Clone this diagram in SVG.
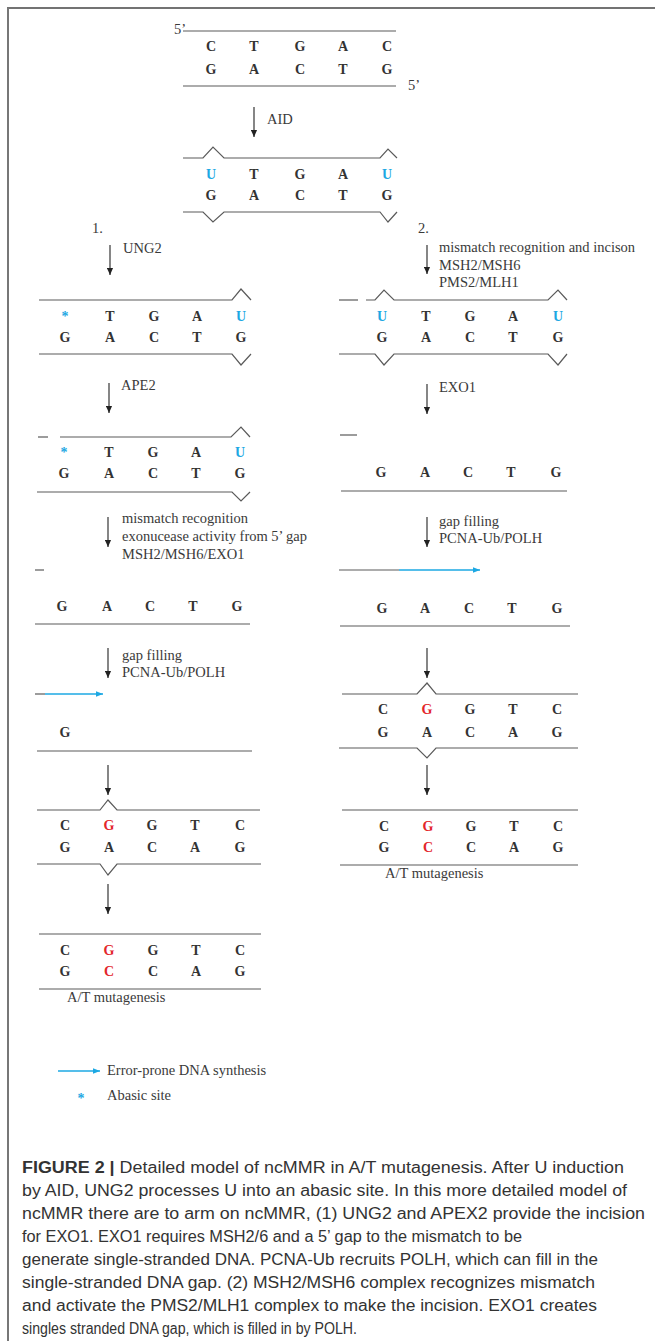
<svg xmlns="http://www.w3.org/2000/svg" width="655" height="1341" viewBox="0 0 655 1341">
<style>
.s{stroke:#5a5a5a;stroke-width:1.2;fill:none}
.bl{stroke:#1ca8e3;stroke-width:1.3;fill:none}
.b{font-family:"Liberation Serif",serif;font-weight:bold;font-size:14px;fill:#333;text-anchor:middle}
.l{font-family:"Liberation Serif",serif;font-size:14.5px;fill:#3a3a3a}
.u{fill:#1ca8e3}
.r{fill:#e3262b}
.a{stroke:#222;stroke-width:1.1;fill:none;marker-end:url(#ah)}
.cap{font-family:"Liberation Sans",Arial,sans-serif;font-size:16px;fill:#333}
</style>
<defs>
<marker id="ah" viewBox="0 0 8 8" refX="8" refY="4" markerWidth="7" markerHeight="7" markerUnits="userSpaceOnUse" orient="auto"><path d="M0,0.5 L8,4 L0,7.5 z" fill="#222"/></marker>
<marker id="bh" viewBox="0 0 8 8" refX="8" refY="4" markerWidth="7" markerHeight="7" markerUnits="userSpaceOnUse" orient="auto"><path d="M0,0.8 L8,4 L0,7.2 z" fill="#1ca8e3"/></marker>
</defs>
<rect width="655" height="1341" fill="#fff"/>
<g id="frame">
<line x1="7" y1="8" x2="655" y2="8" stroke="#444" stroke-width="1.6"/>
<line x1="8" y1="8" x2="8" y2="1341" stroke="#777" stroke-width="2"/>
</g>

<g id="dna-initial">
<text class="l" x="174" y="34">5’</text>
<line class="s" x1="183" y1="31" x2="396" y2="31"/>
<text class="b" y="51"><tspan x="211">C</tspan><tspan x="254">T</tspan><tspan x="300">G</tspan><tspan x="343">A</tspan><tspan x="387">C</tspan></text>
<text class="b" y="74"><tspan x="211">G</tspan><tspan x="254">A</tspan><tspan x="300">C</tspan><tspan x="343">T</tspan><tspan x="387">G</tspan></text>
<line class="s" x1="183" y1="86" x2="396" y2="86"/>
<text class="l" x="408" y="90">5’</text>
</g>

<g id="dna-aid">
<polyline class="s" points="183,158 203,158 213,147 224,158 380,158 388,149 397,158"/>
<text class="b" y="179"><tspan x="211" class="u">U</tspan><tspan x="254">T</tspan><tspan x="300">G</tspan><tspan x="343">A</tspan><tspan x="387" class="u">U</tspan></text>
<text class="b" y="200"><tspan x="211">G</tspan><tspan x="254">A</tspan><tspan x="300">C</tspan><tspan x="343">T</tspan><tspan x="387">G</tspan></text>
<polyline class="s" points="183,212 203,212 213,222 224,212 380,212 388,222 397,212"/>
</g>

<g id="dna-ung2">
<text class="l" x="92" y="233">1.</text>
<polyline class="s" points="39,300 232,300 241,289 251,300"/>
<text class="b" y="321"><tspan x="65" class="u">*</tspan><tspan x="110">T</tspan><tspan x="154">G</tspan><tspan x="197">A</tspan><tspan x="241" class="u">U</tspan></text>
<text class="b" y="342"><tspan x="65">G</tspan><tspan x="110">A</tspan><tspan x="154">C</tspan><tspan x="197">T</tspan><tspan x="241">G</tspan></text>
<polyline class="s" points="39,354 232,354 241,365 251,354"/>
</g>

<g id="dna-ape2">
<line class="s" x1="38" y1="437" x2="48" y2="437"/>
<polyline class="s" points="60,437 231,437 241,427 250,437"/>
<text class="b" y="457"><tspan x="64" class="u">*</tspan><tspan x="109">T</tspan><tspan x="153">G</tspan><tspan x="196">A</tspan><tspan x="240" class="u">U</tspan></text>
<text class="b" y="478"><tspan x="64">G</tspan><tspan x="109">A</tspan><tspan x="153">C</tspan><tspan x="196">T</tspan><tspan x="240">G</tspan></text>
<polyline class="s" points="37,492 232,492 241,501 250,492"/>
</g>

<g id="dna-excised-left">
<line class="s" x1="35" y1="570" x2="44" y2="570"/>
<text class="b" y="611"><tspan x="62">G</tspan><tspan x="107">A</tspan><tspan x="150">C</tspan><tspan x="193">T</tspan><tspan x="237">G</tspan></text>
<line class="s" x1="35" y1="624" x2="250" y2="624"/>
</g>

<g id="dna-gapfill-left">
<line class="s" x1="35" y1="694" x2="45" y2="694"/>
<line class="bl" x1="45" y1="694" x2="103" y2="694" marker-end="url(#bh)"/>
<text class="b" x="65" y="737">G</text>
<line class="s" x1="37" y1="751" x2="252" y2="751"/>
</g>

<g id="dna-mismatch-left">
<polyline class="s" points="37,810 100,810 108,800 117,810 260,810"/>
<text class="b" y="830"><tspan x="65">C</tspan><tspan x="109" class="r">G</tspan><tspan x="152">G</tspan><tspan x="195">T</tspan><tspan x="240">C</tspan></text>
<text class="b" y="852"><tspan x="65">G</tspan><tspan x="109">A</tspan><tspan x="152">C</tspan><tspan x="195">A</tspan><tspan x="240">G</tspan></text>
<polyline class="s" points="37,864 100,864 108,875 117,864 261,864"/>
</g>

<g id="dna-final-left">
<line class="s" x1="39" y1="934" x2="261" y2="934"/>
<text class="b" y="955"><tspan x="65">C</tspan><tspan x="109" class="r">G</tspan><tspan x="153">G</tspan><tspan x="196">T</tspan><tspan x="240">C</tspan></text>
<text class="b" y="976"><tspan x="65">G</tspan><tspan x="109" class="r">C</tspan><tspan x="153">C</tspan><tspan x="196">A</tspan><tspan x="240">G</tspan></text>
<line class="s" x1="39" y1="989" x2="261" y2="989"/>
<text class="l" x="67" y="1002">A/T mutagenesis</text>
</g>

<g id="dna-incision">
<text class="l" x="418" y="233">2.</text>
<line class="s" x1="339" y1="300" x2="358" y2="300"/>
<polyline class="s" points="366,300 375,300 384,290 394,300 548,300 558,290 567,300"/>
<text class="b" y="321"><tspan x="382" class="u">U</tspan><tspan x="426">T</tspan><tspan x="470">G</tspan><tspan x="513">A</tspan><tspan x="558" class="u">U</tspan></text>
<text class="b" y="342"><tspan x="382">G</tspan><tspan x="426">A</tspan><tspan x="470">C</tspan><tspan x="513">T</tspan><tspan x="558">G</tspan></text>
<polyline class="s" points="339,354 375,354 384,365 394,354 548,354 558,365 567,354"/>
</g>

<g id="dna-exo1">
<line class="s" x1="340" y1="435" x2="357" y2="435"/>
<text class="b" y="477"><tspan x="381">G</tspan><tspan x="425">A</tspan><tspan x="468">C</tspan><tspan x="511">T</tspan><tspan x="556">G</tspan></text>
<line class="s" x1="341" y1="491" x2="567" y2="491"/>
</g>

<g id="dna-gapfill-right">
<line class="s" x1="339" y1="570" x2="399" y2="570"/>
<line class="bl" x1="399" y1="570" x2="480" y2="570" marker-end="url(#bh)"/>
<text class="b" y="613"><tspan x="382">G</tspan><tspan x="425">A</tspan><tspan x="469">C</tspan><tspan x="512">T</tspan><tspan x="557">G</tspan></text>
<line class="s" x1="340" y1="626" x2="570" y2="626"/>
</g>

<g id="dna-mismatch-right">
<polyline class="s" points="342,694 417,694 427,683 436,694 578,694"/>
<text class="b" y="714"><tspan x="383">C</tspan><tspan x="427" class="r">G</tspan><tspan x="470">G</tspan><tspan x="513">T</tspan><tspan x="557">C</tspan></text>
<text class="b" y="737"><tspan x="383">G</tspan><tspan x="427">A</tspan><tspan x="470">C</tspan><tspan x="513">A</tspan><tspan x="557">G</tspan></text>
<polyline class="s" points="339,748 417,748 427,758 436,748 578,748"/>
</g>

<g id="dna-final-right">
<line class="s" x1="342" y1="810" x2="578" y2="810"/>
<text class="b" y="831"><tspan x="384">C</tspan><tspan x="428" class="r">G</tspan><tspan x="471">G</tspan><tspan x="514">T</tspan><tspan x="558">C</tspan></text>
<text class="b" y="852"><tspan x="384">G</tspan><tspan x="428" class="r">C</tspan><tspan x="471">C</tspan><tspan x="514">A</tspan><tspan x="558">G</tspan></text>
<line class="s" x1="340" y1="865" x2="578" y2="865"/>
<text class="l" x="385" y="878">A/T mutagenesis</text>
</g>

<g id="connectors">
<line class="a" x1="254" y1="107" x2="254" y2="137"/>
<text class="l" x="267" y="124">AID</text>
<line class="a" x1="110" y1="245" x2="110" y2="275"/>
<text class="l" x="123" y="253">UNG2</text>
<line class="a" x1="109" y1="383" x2="109" y2="413"/>
<text class="l" x="121" y="390">APE2</text>
<line class="a" x1="108" y1="517" x2="108" y2="547"/>
<text class="l" x="122" y="523">mismatch recognition</text>
<text class="l" x="122" y="541">exonucease activity from 5’ gap</text>
<text class="l" x="122" y="559">MSH2/MSH6/EXO1</text>
<line class="a" x1="108" y1="648" x2="108" y2="678"/>
<text class="l" x="122" y="660">gap filling</text>
<text class="l" x="122" y="677">PCNA-Ub/POLH</text>
<line class="a" x1="108" y1="765" x2="108" y2="795"/>
<line class="a" x1="108" y1="884" x2="108" y2="914"/>
<line class="a" x1="427" y1="245" x2="427" y2="274"/>
<text class="l" x="439" y="252">mismatch recognition and incison</text>
<text class="l" x="439" y="270">MSH2/MSH6</text>
<text class="l" x="439" y="287">PMS2/MLH1</text>
<line class="a" x1="427" y1="384" x2="427" y2="414"/>
<text class="l" x="439" y="392">EXO1</text>
<line class="a" x1="427" y1="517" x2="427" y2="547"/>
<text class="l" x="439" y="526">gap filling</text>
<text class="l" x="439" y="543">PCNA-Ub/POLH</text>
<line class="a" x1="427" y1="648" x2="427" y2="678"/>
<line class="a" x1="427" y1="765" x2="427" y2="795"/>
</g>

<g id="legend">
<line class="bl" x1="58" y1="1071" x2="100" y2="1071" marker-end="url(#bh)"/>
<text class="l" x="107" y="1075">Error-prone DNA synthesis</text>
<text class="b u" x="81" y="1103">*</text>
<text class="l" x="107" y="1100">Abasic site</text>
</g>

<g id="caption" class="cap">
<text x="22" y="1173" textLength="602" lengthAdjust="spacingAndGlyphs"><tspan font-weight="bold">FIGURE 2 |</tspan> Detailed model of ncMMR in A/T mutagenesis. After U induction</text>
<text x="22" y="1196" textLength="605" lengthAdjust="spacingAndGlyphs">by AID, UNG2 processes U into an abasic site. In this more detailed model of</text>
<text x="22" y="1219" textLength="623" lengthAdjust="spacingAndGlyphs">ncMMR there are to arm on ncMMR, (1) UNG2 and APEX2 provide the incision</text>
<text x="22" y="1242" textLength="500" lengthAdjust="spacingAndGlyphs">for EXO1. EXO1 requires MSH2/6 and a 5’ gap to the mismatch to be</text>
<text x="22" y="1265" textLength="576" lengthAdjust="spacingAndGlyphs">generate single-stranded DNA. PCNA-Ub recruits POLH, which can fill in the</text>
<text x="22" y="1288" textLength="573" lengthAdjust="spacingAndGlyphs">single-stranded DNA gap. (2) MSH2/MSH6 complex recognizes mismatch</text>
<text x="22" y="1311" textLength="575" lengthAdjust="spacingAndGlyphs">and activate the PMS2/MLH1 complex to make the incision. EXO1 creates</text>
<text x="22" y="1334" textLength="335" lengthAdjust="spacingAndGlyphs">singles stranded DNA gap, which is filled in by POLH.</text>
</g>
</svg>
